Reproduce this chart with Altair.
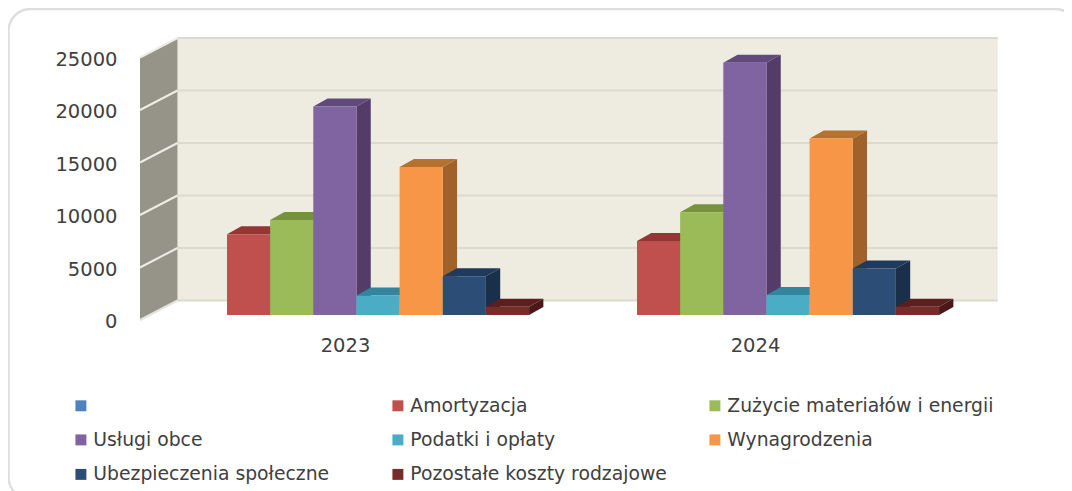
import altair as alt
import pandas as pd

# ---- data
years = ["2023", "2024"]
series = ["", "Amortyzacja", "Zużycie materiałów i energii", "Usługi obce", "Podatki i opłaty",
          "Wynagrodzenia", "Ubezpieczenia społeczne", "Pozostałe koszty rodzajowe"]
values_2023 = [None, 7700, 9050, 19850, 1850, 14100, 3700, 780]
values_2024 = [None, 7050, 9780, 24030, 1900, 16800, 4430, 780]
front_colors = ["#4F81BD", "#C0504D", "#9BBB59", "#8064A2", "#4BACC6", "#F79646", "#2C4D75", "#772C2A"]
top_colors = ["#3B6190", "#943634", "#76923C", "#604A7B", "#31859C", "#B5712E", "#1F3A5C", "#5A1F1E"]
side_colors = ["#2F4E73", "#8A302E", "#6F8A38", "#533D68", "#2F7F94", "#A0622A", "#1A2F4A", "#4A1818"]
ticks = [0, 5000, 10000, 15000, 20000, 25000]

# ---- projection constants (slot units across, value units up)
PX_SLOT = 43.15
PX_VAL = 0.0105
X_ZERO = 183.85      # page x of slot 0 in the first group
Y_ZERO = 315.0       # page y of value 0
OX, OY, RIGHT, BOTTOM = 8, 8, 1064, 491
W, H = RIGHT - OX, BOTTOM - OY
GROUP_STEP = 410 / PX_SLOT
DX, DY = 14.3 / PX_SLOT, 8 / PX_VAL
WALL_FRONT_X, WALL_BACK_X, WALL_RIGHT_X = (140 - X_ZERO) / PX_SLOT, (177.5 - X_ZERO) / PX_SLOT, (997.7 - X_ZERO) / PX_SLOT
WALL_FRONT_Y, WALL_BACK_Y = -5 / PX_VAL, 14.5 / PX_VAL

xs = alt.Scale(domain=[(OX - X_ZERO) / PX_SLOT, (RIGHT - X_ZERO) / PX_SLOT], nice=False, zero=False)
ys = alt.Scale(domain=[(Y_ZERO - BOTTOM) / PX_VAL, (Y_ZERO - OY) / PX_VAL], nice=False, zero=False)

rows, sides, tops = [], [], []
for g, vals in enumerate([values_2023, values_2024]):
    for s, v in enumerate(vals):
        if v is None:
            continue
        l = s + g * GROUP_STEP
        r = l + 1
        key = f"{g}-{s}"
        rows.append(dict(l=l, r=r, v=v, zero=0, name=series[s]))
        sides += [dict(k=key, x=r, lo=0, hi=v, c=side_colors[s]),
                  dict(k=key, x=r + DX, lo=DY, hi=v + DY, c=side_colors[s])]
        tops += [dict(k=key, y=v, a=l, b=r, c=top_colors[s]),
                 dict(k=key, y=v + DY, a=l + DX, b=r + DX, c=top_colors[s])]
fronts_df, sides_df, tops_df = pd.DataFrame(rows), pd.DataFrame(sides), pd.DataFrame(tops)

back_df = pd.DataFrame([dict(a=WALL_BACK_X, b=WALL_RIGHT_X, lo=WALL_BACK_Y, hi=25000 + WALL_BACK_Y)])
left_df = pd.DataFrame([dict(x=WALL_FRONT_X, lo=WALL_FRONT_Y, hi=25000 + WALL_FRONT_Y),
                        dict(x=WALL_BACK_X, lo=WALL_BACK_Y, hi=25000 + WALL_BACK_Y)])
grid_df = pd.DataFrame([dict(a=WALL_BACK_X, b=WALL_RIGHT_X, y=t + WALL_BACK_Y) for t in ticks])
diag_df = pd.DataFrame([dict(t=t, x=WALL_FRONT_X, y=t + WALL_FRONT_Y) for t in ticks[1:]] +
                       [dict(t=t, x=WALL_BACK_X, y=t + WALL_BACK_Y) for t in ticks[1:]])
edge_df = pd.DataFrame([dict(x=WALL_FRONT_X, y=WALL_FRONT_Y), dict(x=WALL_BACK_X, y=WALL_BACK_Y)])

LABEL_X = [(345 - X_ZERO) / PX_SLOT, (755 - X_ZERO) / PX_SLOT]
x_axis = alt.Axis(title=None, values=LABEL_X, grid=False, domain=False, ticks=False, zindex=1,
                  labelExpr=f"datum.value < {GROUP_STEP} ? '{years[0]}' : '{years[1]}'",
                  labelFont="DejaVu Sans", labelFontSize=19.5, labelColor="#404040",
                  labelPadding=0, labelBaseline="middle", offset=-(BOTTOM - 345), labelOverlap=False)
y_axis = alt.Axis(title=None, values=ticks, format="d", grid=False, domain=False, ticks=False, zindex=1,
                  labelFont="DejaVu Sans", labelFontSize=19.5, labelColor="#404040",
                  labelPadding=-(117 - OX), labelOffset=6.5, labelOverlap=False, labelAlign="right",
                  labelBaseline="middle")


def X(field):
    return alt.X(field, scale=xs, axis=x_axis)


def Y(field):
    return alt.Y(field, scale=ys, axis=y_axis)


card = alt.Chart(back_df).mark_rect(fill="white", stroke="#DEDEDE", strokeWidth=2.5, cornerRadius=22).encode(
    x=alt.value(0.5), x2=alt.value(1069), y=alt.value(1), y2=alt.value(491))
back = alt.Chart(back_df).mark_rect(color="#EEEBE0").encode(x=X("a:Q"), x2="b:Q", y=Y("lo:Q"), y2="hi:Q")
left = alt.Chart(left_df).mark_area(color="#969488").encode(x=X("x:Q"), y=Y("lo:Q"), y2="hi:Q")
grid = alt.Chart(grid_df).mark_rule(color="#DCDAD0", strokeWidth=2).encode(x=X("a:Q"), x2="b:Q", y=Y("y:Q"))
diag = alt.Chart(diag_df).mark_line(color="#EDEDE6", strokeWidth=2).encode(x=X("x:Q"), y=Y("y:Q"), detail="t:N")
edge = alt.Chart(edge_df).mark_line(color="#E4E4DE", strokeWidth=2).encode(x=X("x:Q"), y=Y("y:Q"))

side_layer = alt.Chart(sides_df).mark_area().encode(
    x=X("x:Q"), y=Y("lo:Q"), y2="hi:Q", color=alt.Color("c:N", scale=None), detail="k:N")
top_layer = alt.Chart(tops_df).mark_area(orient="horizontal").encode(
    y=Y("y:Q"), x=X("a:Q"), x2="b:Q", color=alt.Color("c:N", scale=None), detail="k:N")
front_layer = alt.Chart(fronts_df).mark_rect().encode(
    x=X("l:Q"), x2="r:Q", y=Y("zero:Q"), y2="v:Q",
    fill=alt.Fill("name:N", scale=alt.Scale(domain=series, range=front_colors),
                  legend=alt.Legend(title=None, orient="none", legendX=71.5 - OX, legendY=396 - OY,
                                    columns=3, direction="horizontal", gridAlign="all", symbolType="square",
                                    symbolSize=120, symbolStrokeWidth=0, labelFont="DejaVu Sans",
                                    labelFontSize=18.8, labelColor="#404040", labelOffset=3, rowPadding=14.5,
                                    columnPadding=29, labelLimit=400, padding=0)))

chart = alt.layer(card, back, left, grid, diag, edge, side_layer, top_layer, front_layer).resolve_scale(
    color="independent", fill="independent"
).properties(
    width=W, height=H, background="white",
    padding=0,
    autosize=alt.AutoSizeParams(type="none"),
).configure_view(stroke=None)

chart.save("out.html", embed_options={"renderer": "svg", "actions": False})
